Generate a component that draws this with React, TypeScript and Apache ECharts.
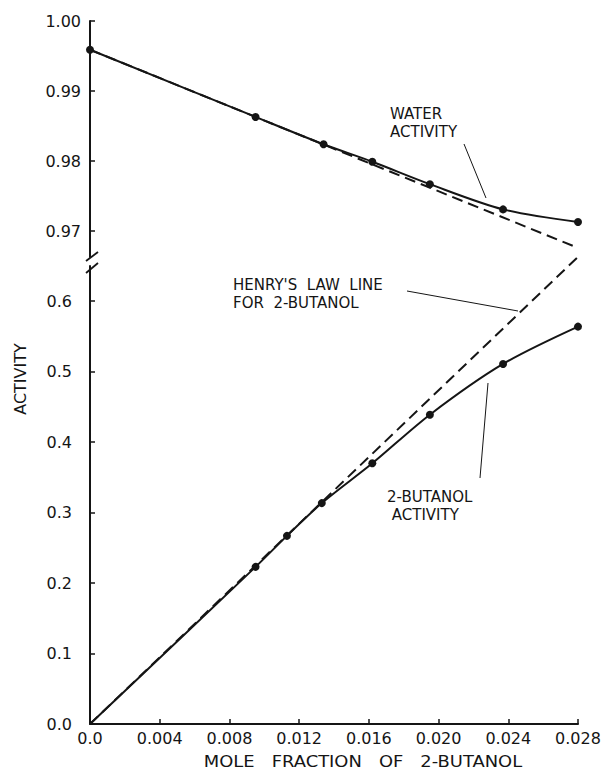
import React, { useEffect, useRef } from "react";
import * as echarts from "echarts";

// ---- data ----
const xTicks = [0, 0.004, 0.008, 0.012, 0.016, 0.02, 0.024, 0.028];
const upperTicks = [0.97, 0.98, 0.99, 1.0];
const lowerTicks = [0, 0.1, 0.2, 0.3, 0.4, 0.5, 0.6];

const waterX = [0, 0.0095, 0.0134, 0.0162, 0.0195, 0.0237, 0.028];
const waterY = [0.9959, 0.9863, 0.9824, 0.9799, 0.9767, 0.9731, 0.9713];

const idealWaterX = [0, 0.028];
const idealWaterY = [0.9959, 0.9676];

const butanolX = [0.0095, 0.0113, 0.0133, 0.0162, 0.0195, 0.0237, 0.028];
const butanolY = [0.223, 0.267, 0.3135, 0.37, 0.439, 0.511, 0.564];

const henryX = [0, 0.028];
const henryY = [0, 0.663];

const FONT = "DejaVu Sans";
const INK = "#151515";

export default function App() {
  const ref = useRef<HTMLDivElement | null>(null);

  useEffect(() => {
    document.body.style.margin = "0";
    if (!ref.current) return;
    const chart = echarts.init(ref.current, undefined, { renderer: "svg" });

    const axisLine = { show: true, onZero: false, lineStyle: { color: INK, width: 2 } };
    const labelStyle = { color: INK, fontSize: 16, fontFamily: FONT };

    const txt = (x: number, y: number, s: string, extra: any = {}) => ({
      type: "text",
      x,
      y,
      style: {
        text: s,
        fill: INK,
        font: `15px "${FONT}"`,
        lineHeight: 18,
        verticalAlign: "top",
        align: "left",
        ...extra,
      },
    });
    const ln = (x1: number, y1: number, x2: number, y2: number, w = 1) => ({
      type: "line",
      shape: { x1, y1, x2, y2 },
      style: { stroke: INK, lineWidth: w },
    });

    chart.setOption({
      animation: false,
      backgroundColor: "#ffffff",
      grid: [
        { left: 90, top: 21, width: 488, height: 236 },
        { left: 90, top: 266, width: 488, height: 458 },
      ],
      xAxis: [
        {
          gridIndex: 0,
          type: "value",
          min: 0,
          max: 0.028,
          show: false,
        },
        {
          gridIndex: 1,
          type: "value",
          min: 0,
          max: 0.028,
          interval: 0.004,
          axisLine,
          splitLine: { show: false },
          axisTick: {
            show: true,
            inside: true,
            length: 5,
            customValues: xTicks,
            lineStyle: { color: INK, width: 1.5 },
          },
          axisLabel: {
            ...labelStyle,
            margin: 6,
            customValues: xTicks,
            formatter: (v: number) => (v === 0 ? "0.0" : v.toFixed(3)),
          },
        },
      ],
      yAxis: [
        {
          gridIndex: 0,
          type: "value",
          min: 0.9663,
          max: 1.0,
          axisLine,
          splitLine: { show: false },
          axisTick: {
            show: true,
            inside: true,
            length: 5,
            customValues: upperTicks,
            lineStyle: { color: INK, width: 1.5 },
          },
          axisLabel: {
            ...labelStyle,
            margin: 9,
            customValues: upperTicks,
            formatter: (v: number) => v.toFixed(2),
          },
        },
        {
          gridIndex: 1,
          type: "value",
          min: 0,
          max: 0.65,
          axisLine,
          splitLine: { show: false },
          axisTick: {
            show: true,
            inside: true,
            length: 5,
            customValues: lowerTicks,
            lineStyle: { color: INK, width: 1.5 },
          },
          axisLabel: {
            ...labelStyle,
            margin: 18,
            customValues: lowerTicks,
            formatter: (v: number) => v.toFixed(1),
          },
        },
      ],
      series: [
        {
          name: "Ideal water",
          type: "line",
          xAxisIndex: 0,
          yAxisIndex: 0,
          data: idealWaterX.map((x, i) => [x, idealWaterY[i]]),
          symbol: "none",
          clip: false,
          lineStyle: { color: INK, width: 2, type: [11, 6] },
          z: 2,
        },
        {
          name: "Water activity",
          type: "line",
          xAxisIndex: 0,
          yAxisIndex: 0,
          smooth: 0.3,
          data: waterX.map((x, i) => [x, waterY[i]]),
          symbol: "circle",
          symbolSize: 8,
          itemStyle: { color: INK },
          lineStyle: { color: INK, width: 2 },
          z: 3,
        },
        {
          name: "Henry's law line",
          type: "line",
          xAxisIndex: 1,
          yAxisIndex: 1,
          data: henryX.map((x, i) => [x, henryY[i]]),
          symbol: "none",
          clip: false,
          lineStyle: { color: INK, width: 2, type: [11, 6] },
          z: 2,
        },
        {
          name: "2-Butanol activity",
          type: "line",
          xAxisIndex: 1,
          yAxisIndex: 1,
          smooth: 0.3,
          data: [
            { value: [0, 0], symbol: "none" },
            ...butanolX.map((x, i) => [x, butanolY[i]]),
          ],
          symbol: "circle",
          symbolSize: 8,
          itemStyle: { color: INK },
          lineStyle: { color: INK, width: 2 },
          z: 3,
        },
      ],
      graphic: [
        // axis break marks
        ln(86, 261, 98, 252, 1.8),
        ln(86, 273, 98, 263, 1.8),
        // annotations
        txt(390, 105, "WATER\nACTIVITY", { scaleX: 1 }),
        ln(464, 144, 486, 198),
        txt(233, 276, "HENRY'S  LAW  LINE\nFOR  2-BUTANOL"),
        ln(407, 291, 518, 311),
        txt(387, 488, "2-BUTANOL\n ACTIVITY"),
        ln(480, 478, 488, 383),
        // axis titles
        {
          type: "text",
          x: 20,
          y: 379,
          rotation: Math.PI / 2,
          style: {
            text: "ACTIVITY",
            fill: INK,
            font: `16px "${FONT}"`,
            align: "center",
            verticalAlign: "middle",
          },
        },
        {
          type: "text",
          x: 363,
          y: 761,
          scaleX: 1.12,
          style: {
            text: "MOLE   FRACTION   OF   2-BUTANOL",
            fill: INK,
            font: `16px "${FONT}"`,
            align: "center",
            verticalAlign: "middle",
          },
        },
      ],
    });

    return () => chart.dispose();
  }, []);

  return <div ref={ref} style={{ width: 604, height: 779 }} />;
}
